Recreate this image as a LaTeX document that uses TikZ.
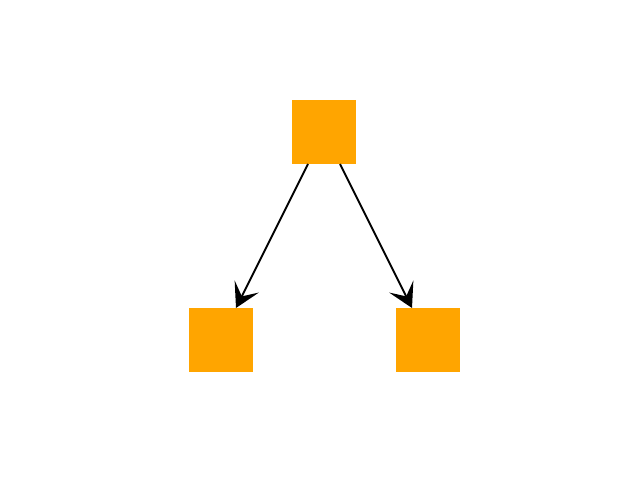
\documentclass[tikz,border=0pt]{standalone}
\usetikzlibrary{arrows.meta}
\definecolor{boxorange}{RGB}{255,165,0}
\begin{document}
\begin{tikzpicture}[x=1pt,y=1pt,
    sqbox/.style={fill=boxorange, minimum size=64pt, inner sep=0pt, outer sep=0pt},
    link/.style={line width=1.8pt, -{Stealth[length=24pt,width=27pt,inset=11pt]}}]
        \useasboundingbox (0,0) rectangle (640,480);
        \node [sqbox] (top) at (324,348) {};
        \node [sqbox] (left) at (221,140) {};
        \node [sqbox] (right) at (428,140) {};
        \draw [link] ([xshift=-16pt]top.south) -- ([xshift=15pt]left.north);
        \draw [link] ([xshift=16pt]top.south) -- ([xshift=-16pt]right.north);
    \end{tikzpicture}
\end{document}
